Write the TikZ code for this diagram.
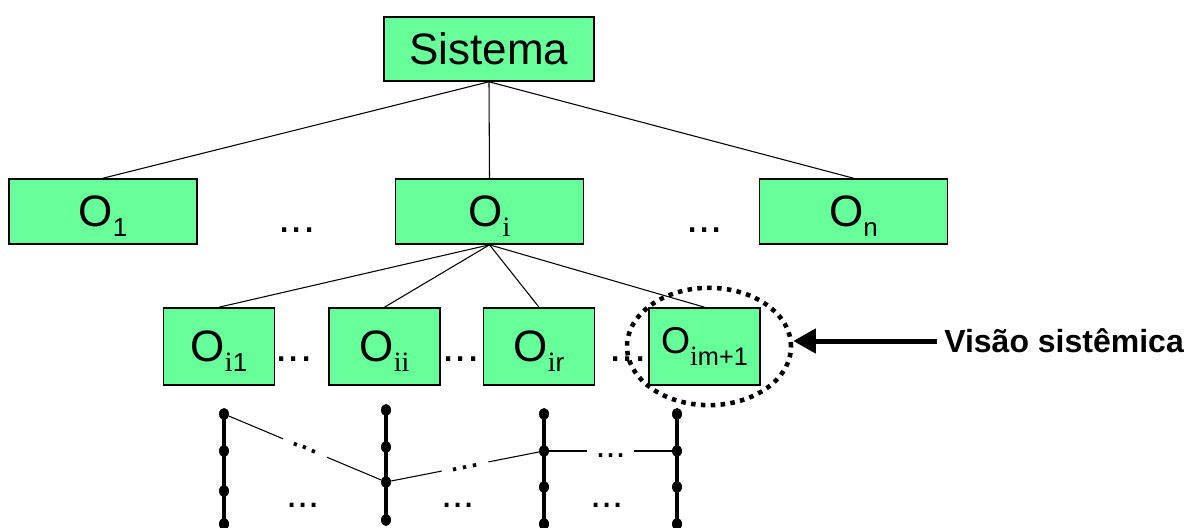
\documentclass[tikz,border=0pt]{standalone}
\usepackage{fontspec}
\setmainfont{Liberation Sans}
\newfontfamily\timesfont{Liberation Serif}
\usetikzlibrary{arrows.meta,shapes.geometric}

\definecolor{boxgreen}{RGB}{102,255,153}
% serif i for the subscripts
\newcommand{\ti}{{\timesfont\fontsize{21}{21}\selectfont i}}
\newcommand{\osub}[1]{\raisebox{-7.5pt}{\fontsize{19.5}{20}\selectfont #1}}

\tikzset{
  obox/.style={draw=black, line width=1.2pt, fill=boxgreen, inner sep=0pt,
    text depth=0pt, font=\fontsize{33}{36}\selectfont},
  toprow/.style={obox, minimum width=141pt, minimum height=48.75pt},
  lowrow/.style={obox, minimum width=83.25pt, minimum height=57.75pt},
  link/.style={line width=0.8pt},
  chain/.style={line width=2.5pt},
  bead/.style={ellipse, fill=black, inner sep=0pt, minimum width=7.5pt, minimum height=9pt},
  dotstext/.style={anchor=base, inner sep=0pt, font=\fontsize{33}{36}\selectfont},
  gapdots/.style={fill=white, inner xsep=6.5pt, inner ysep=0.5pt,
    text height=9pt, text depth=0pt, font=\fontsize{27}{30}\selectfont},
  seta/.style={line width=3.75pt, -{Triangle[length=17pt,width=18pt]}},
}

\begin{document}
\begin{tikzpicture}[x=0.75pt,y=0.75pt,yscale=-1,xscale=1]
\useasboundingbox (0,0) rectangle (1197,528);

%Shape: Rectangle [top]
\node[obox, minimum width=157.5pt, minimum height=48pt] (sis) at (489,49) {Sistema};

%Shape: Rectangle [second row]
\node[toprow] (o1) at (103,211.5) {O\osub{1}};
\node[toprow] (oi) at (489.5,211.5) {O\osub{\ti}};
\node[toprow] (on) at (853.5,211.5) {O\osub{n}};

%Shape: Rectangle [third row]
\node[lowrow] (oi1) at (219,346.5) {O\osub{\ti1}};
\node[lowrow] (oii) at (384.5,346.5) {O\osub{\ti\ti}};
\node[lowrow] (oir) at (539,346.5) {O\osub{\ti r}};
\node[lowrow, text depth=9pt, font=\fontsize{28}{30}\selectfont] (oim) at (704.5,346.5)
  {O\raisebox{-9pt}{\fontsize{19}{19}\selectfont\ti m+1}};

%Straight Lines
\draw[link] (sis.south) -- (o1.north);
\draw[link] (sis.south) -- (oi.north);
\draw[link] (sis.south) -- (on.north);
\draw[link] (oi.south) -- (oi1.north);
\draw[link] (oi.south) -- (oii.north);
\draw[link] (oi.south) -- (oir.north);
\draw[link] (oi.south) -- (oim.north);

% Text Node
\node[dotstext] (d1) at (297,232) {...};
\node[dotstext] (d2) at (704.5,232) {...};
\node[dotstext] (d3) at (294,361.5) {...};
\node[dotstext] (d4) at (461,361.5) {...};
\node[dotstext] (d5) at (628,361.5) {...};

%Shape: beads
\node[bead] (c1a) at (224,414) {};
\node[bead] (c1b) at (224,451) {};
\node[bead] (c1c) at (224,491) {};
\node[bead] (c1d) at (224,524) {};
\node[bead] (c2a) at (386,410) {};
\node[bead] (c2b) at (386,447) {};
\node[bead] (c2c) at (386,482) {};
\node[bead] (c2d) at (386,520) {};
\node[bead] (c3a) at (544,414) {};
\node[bead] (c3b) at (544,451) {};
\node[bead] (c3c) at (544,487) {};
\node[bead] (c3d) at (544,524) {};
\node[bead] (c4a) at (677,414) {};
\node[bead] (c4b) at (677,451) {};
\node[bead] (c4c) at (677,487) {};
\node[bead] (c4d) at (677,524) {};

%Straight Lines [chains]
\draw[chain] (c1a.center) -- (c1d.center);
\draw[chain] (c2a.center) -- (c2d.center);
\draw[chain] (c3a.center) -- (c3d.center);
\draw[chain] (c4a.center) -- (c4d.center);

\draw[link] (c1a) -- node[gapdots, rotate=-22.8, text height=3pt] (g1) {...} (c2c);
\draw[link] (c2c) -- node[gapdots, rotate=11.1, text height=5pt] (g2) {...} (c3b);
\draw[link] (c3b) -- node[gapdots] (g3) {...} (c4b);

% Text Node
\node[dotstext, font=\fontsize{30}{32}\selectfont] (d6) at (303,507.5) {...};
\node[dotstext, font=\fontsize{30}{32}\selectfont] (d7) at (458,507.5) {...};
\node[dotstext, font=\fontsize{30}{32}\selectfont] (d8) at (607,507.5) {...};

%Shape: Ellipse
\node[draw, ellipse, line width=3.4pt, dash pattern=on 3.4pt off 4pt,
  minimum width=123pt, minimum height=88pt, inner sep=0pt] (vis) at (709,346.5) {};

% Text Node
\node[anchor=base west, inner sep=0pt, font=\bfseries\fontsize{24}{28}\selectfont]
  (vislbl) at (944,352) {Visão sistêmica};
\coordinate (tail) at (937,341);
\draw[seta] (tail) -- (tail -| vis.east);

\end{tikzpicture}
\end{document}
